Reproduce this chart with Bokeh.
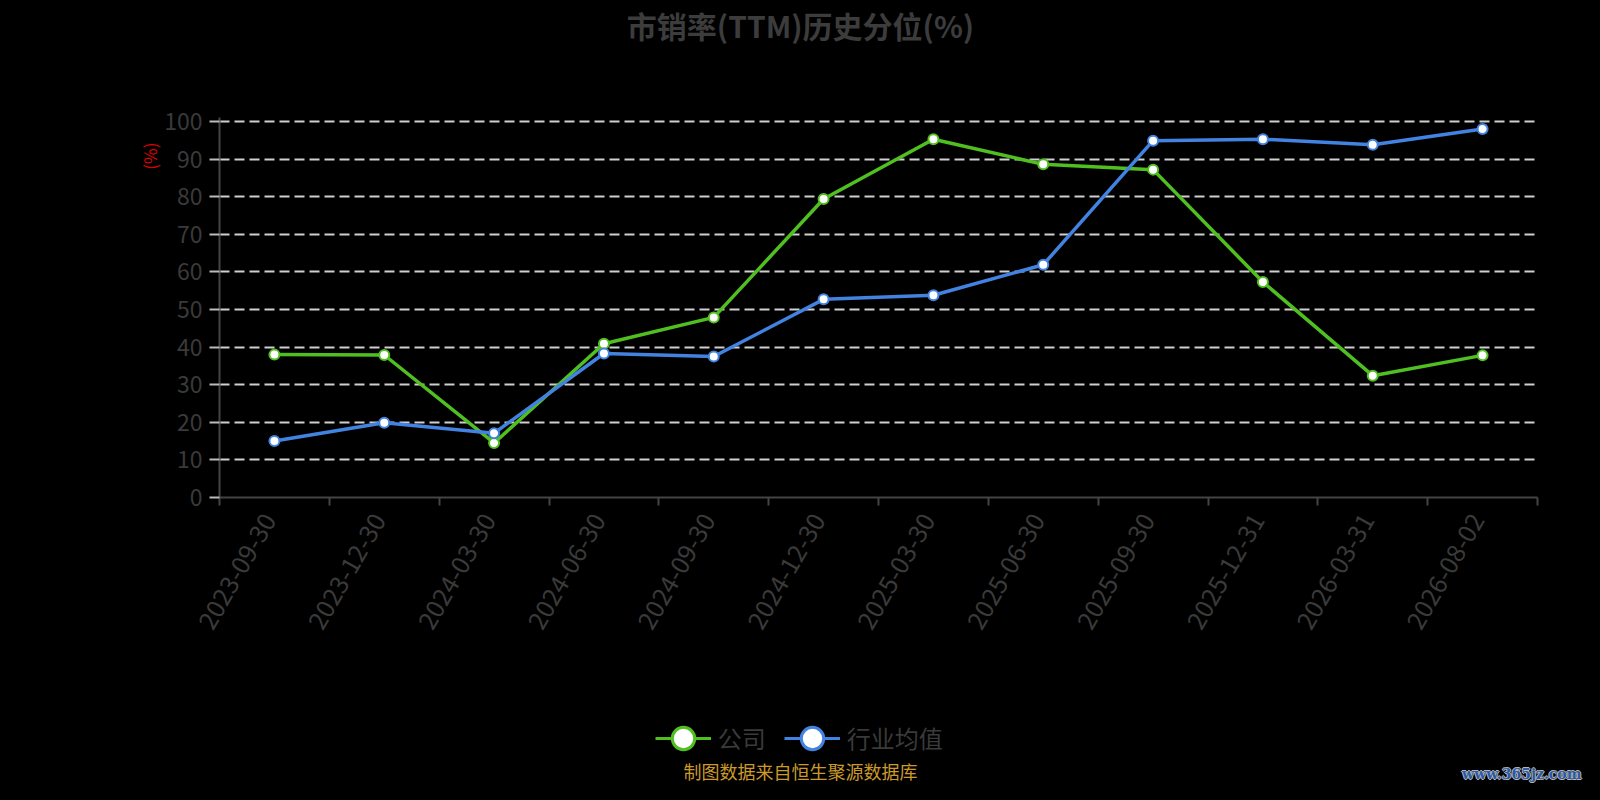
# 市销率(TTM)历史分位 — 公司 vs 行业均值
from bokeh.embed import file_html
from bokeh.layouts import column
from bokeh.models import ColumnDataSource, FixedTicker, Label, Legend, LegendItem, Range1d, Title
from bokeh.plotting import figure
from bokeh.resources import INLINE

# データ
dates = ["2023-09-30", "2023-12-30", "2024-03-30", "2024-06-30", "2024-09-30", "2024-12-30",
         "2025-03-30", "2025-06-30", "2025-09-30", "2025-12-31", "2026-03-31", "2026-08-02"]
company = [38.0, 37.9, 14.5, 40.9, 47.9, 79.4, 95.3, 88.6, 87.2, 57.3, 32.4, 37.8]
industry = [15.0, 19.9, 17.1, 38.3, 37.5, 52.7, 53.8, 61.9, 94.9, 95.3, 93.8, 98.0]
y_ticks = [0, 10, 20, 30, 40, 50, 60, 70, 80, 90, 100]

FONT = "Noto Sans CJK SC"
GREEN = "#4fc01f"
BLUE = "#4282e0"
W = 1584


def blank(height, y_top, y_bottom):
    # 文字だけのパネル(座標 = キャンバスのピクセル)
    f = figure(width=W, height=height, output_backend="svg", toolbar_location=None,
               x_range=Range1d(0, W), y_range=Range1d(y_bottom, y_top),
               x_axis_type=None, y_axis_type=None, min_border=0, frame_align=False)
    f.grid.visible = False
    f.background_fill_color = "black"
    f.border_fill_color = "black"
    f.outline_line_color = None
    return f


# --- タイトル
top = blank(101, 0, 101)
top.add_layout(Label(x=800, y=24, text="市销率(TTM)历史分位(%)", text_font=FONT, text_font_size="30px",
                     text_font_style="bold", text_color="#3c3c3c", text_align="center", text_baseline="middle"))

# --- メイン
pos = [i + 0.5 for i in range(len(dates))]
label_pos = [x - 0.05 for x in pos]  # ラベルを少し左へ
src = ColumnDataSource(data=dict(x=pos, company=company, industry=industry))

# 上端の100のグリッド線が切れないよう少し余白
p = figure(width=W, height=549, output_backend="svg", toolbar_location=None, frame_align=False,
           x_range=Range1d(0, len(dates)), y_range=Range1d(0, 380 / 3.76),
           min_border_left=219, min_border_right=47, min_border_top=16, min_border_bottom=153)
p.background_fill_color = "black"
p.border_fill_color = "black"
p.outline_line_color = None
p.xgrid.grid_line_color = None
p.ygrid.grid_line_color = "#cfcfcf"
p.ygrid.grid_line_width = 2
p.ygrid.grid_line_dash = "10 5"

p.xaxis.ticker = FixedTicker(ticks=label_pos, minor_ticks=list(range(len(dates) + 1)))
p.xaxis.major_label_overrides = {x: d for x, d in zip(label_pos, dates)}
p.xaxis.major_tick_line_color = None
p.xaxis.major_tick_out = 0
p.xaxis.minor_tick_out = 8
p.xaxis.minor_tick_in = 0
p.xaxis.minor_tick_line_color = "#444444"
p.xaxis.minor_tick_line_width = 2
p.xaxis.axis_line_color = "#444444"
p.xaxis.axis_line_width = 2
p.xaxis.major_label_orientation = 3.14159 / 3
p.xaxis.major_label_standoff = 10
p.xaxis.major_label_text_font = FONT
p.xaxis.major_label_text_font_size = "25px"
p.xaxis.major_label_text_color = "#3a3a3a"

p.yaxis.ticker = FixedTicker(ticks=y_ticks)
p.yaxis.minor_tick_line_color = None
p.yaxis.major_tick_out = 10
p.yaxis.major_tick_in = 0
p.yaxis.major_tick_line_color = "#bbbbbb"
p.yaxis.major_tick_line_width = 2
p.yaxis.axis_line_color = "#444444"
p.yaxis.axis_line_width = 2
p.yaxis.major_label_standoff = 7
p.yaxis.major_label_text_font = FONT
p.yaxis.major_label_text_font_size = "23px"
p.yaxis.major_label_text_color = "#3a3a3a"

p.add_layout(Title(text="(%)", align="right", offset=25, standoff=0, text_font=FONT, text_font_size="17px",
                   text_font_style="normal", text_color="#dd0000"), "left")

p.line("x", "company", source=src, line_color=GREEN, line_width=3.5)
p.scatter("x", "company", source=src, size=10, fill_color="white", line_color=GREEN, line_width=2)
p.line("x", "industry", source=src, line_color=BLUE, line_width=3.5)
p.scatter("x", "industry", source=src, size=10, fill_color="white", line_color=BLUE, line_width=2)

# --- 凡例と出典
bottom = blank(134, 650, 784)
proxy = ColumnDataSource(data=dict(x=[float("nan")], y=[float("nan")]))
items = []
for name, col in [("公司", GREEN), ("行业均值", BLUE)]:
    ln = bottom.line("x", "y", source=proxy, line_color=col, line_width=3)
    mk = bottom.scatter("x", "y", source=proxy, fill_color="white", line_color=col, line_width=3)
    items.append(LegendItem(label=name, renderers=[ln, mk]))
bottom.add_layout(Legend(items=items, location=(654.7, 16.3), orientation="horizontal",
                         glyph_width=56, glyph_height=60, label_standoff=7, spacing=18,
                         padding=0, margin=0, border_line_color=None, background_fill_alpha=0,
                         label_text_font=FONT, label_text_font_size="24px", label_text_color="#3a3a3a"))
bottom.add_layout(Label(x=800, y=770, text="制图数据来自恒生聚源数据库", text_font=FONT, text_font_size="18px",
                        text_color="#cc9a2a", text_align="center", text_baseline="middle"))
for dx, dy in [(-1, 0), (1, 0), (0, -1), (0, 1)]:
    bottom.add_layout(Label(x=1581 + dx, y=773 + dy, text="www.365jz.com", text_font="DejaVu Serif",
                            text_font_size="14px", text_font_style="bold", text_color="#b8b8b8",
                            text_align="right", text_baseline="middle"))
bottom.add_layout(Label(x=1581, y=773, text="www.365jz.com", text_font="DejaVu Serif", text_font_size="14px",
                        text_font_style="bold", text_color="#2a5aa6", text_align="right", text_baseline="middle"))

layout = column(top, p, bottom, spacing=0)
html = file_html(layout, INLINE)
html = html.replace("</head>", "<style>html,body{background:#000;}</style></head>", 1)
open("out.html", "w").write(html)
